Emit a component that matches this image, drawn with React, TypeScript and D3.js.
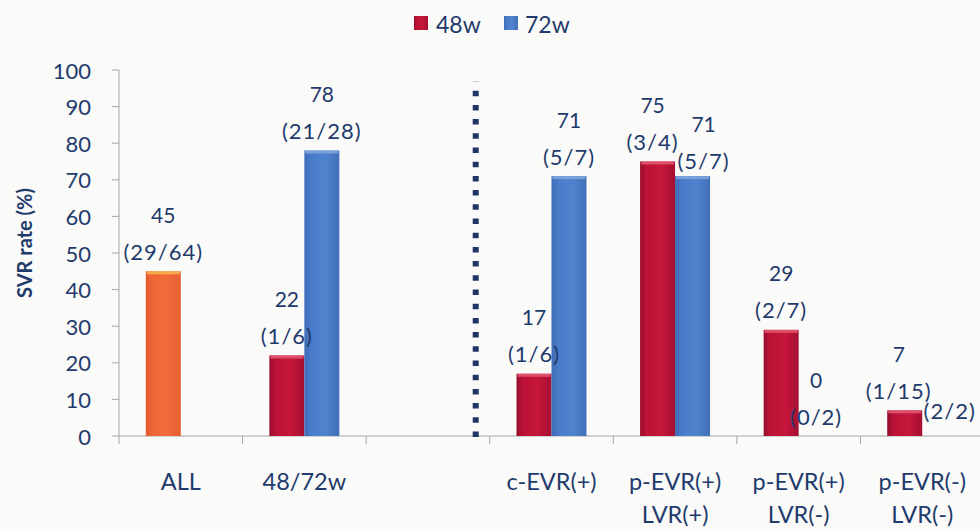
import React from "react";
import * as d3 from "d3";

// SVR rate by treatment duration and viral response
const categories = ["ALL", "48/72w", "", "c-EVR(+)", "p-EVR(+)\nLVR(+)", "p-EVR(+)\nLVR(-)", "p-EVR(-)\nLVR(-)"];
const seriesNames = ["48w", "72w"];
const svr48: (number | null)[] = [45, 22, null, 17, 75, 29, 7];
const svr72: (number | null)[] = [null, 78, null, 71, 71, 0, null];
const frac48: (string | null)[] = ["(29/64)", "(1/6)", null, "(1/6)", "(3/4)", "(2/7)", "(1/15)"];
const frac72: (string | null)[] = [null, "(21/28)", null, "(5/7)", "(5/7)", "(0/2)", "(2/2)"];
const yTicks = [0, 10, 20, 30, 40, 50, 60, 70, 80, 90, 100];

const W = 980;
const H = 529;
const FONT = 'Lato, "Open Sans", "DejaVu Sans", sans-serif';
const TEXT = "#1F3A6C";

// small label offsets where neighbouring labels would collide
const labelNudge: Record<string, [number, number]> = {
  "4-48w": [-5, 0],
  "4-72w": [11, 4],
  "6-48w": [-6, 0],
  "6-72w": [10, -6],
};

export default function App() {
  const idx = categories.map((_, i) => i);
  const x = d3.scaleBand<number>().domain(idx).range([119, 984]).paddingInner(0).paddingOuter(0);
  const xs = d3.scaleBand<string>().domain(seriesNames).range([0, x.bandwidth()]).paddingInner(0).paddingOuter(0.766);
  const y = d3.scaleLinear().domain([0, 100]).range([436, 70]);

  const bars: { i: number; s: string; v: number | null; frac: string | null }[] = [];
  idx.forEach((i) => {
    bars.push({ i, s: "48w", v: svr48[i], frac: frac48[i] });
    bars.push({ i, s: "72w", v: svr72[i], frac: frac72[i] });
  });

  const fillFor = (i: number, s: string) =>
    categories[i] === "ALL" ? "url(#gOrange)" : s === "48w" ? "url(#gRed)" : "url(#gBlue)";
  const topFor = (i: number, s: string) =>
    categories[i] === "ALL" ? "#F6B14A" : s === "48w" ? "#E25570" : "#7FA4DD";

  const sepX = (x(3) as number) - 14;
  const bw = xs.bandwidth();

  return (
    <svg
      width={W}
      height={H}
      viewBox={`0 0 ${W} ${H}`}
      style={{ position: "fixed", left: 0, top: 0, background: "#FAFAF9" }}
      fontFamily={FONT}
    >
      <defs>
        <linearGradient id="gRed" x1="0" x2="1" y1="0" y2="0">
          <stop offset="0" stopColor="#960D2B" />
          <stop offset="0.18" stopColor="#BB1236" />
          <stop offset="0.6" stopColor="#C6163B" />
          <stop offset="1" stopColor="#A50F30" />
        </linearGradient>
        <linearGradient id="gBlue" x1="0" x2="1" y1="0" y2="0">
          <stop offset="0" stopColor="#3E6BB6" />
          <stop offset="0.2" stopColor="#4A7BC8" />
          <stop offset="0.6" stopColor="#5083CE" />
          <stop offset="1" stopColor="#416FB8" />
        </linearGradient>
        <linearGradient id="gOrange" x1="0" x2="1" y1="0" y2="0">
          <stop offset="0" stopColor="#E55A30" />
          <stop offset="0.2" stopColor="#EE6738" />
          <stop offset="0.6" stopColor="#F06C3A" />
          <stop offset="1" stopColor="#E45E32" />
        </linearGradient>
      </defs>

      <rect x={0} y={0} width={W} height={H} fill="#FAFAF9" />

      {/* legend */}
      <g>
        <rect x={414} y={16} width={14} height={14} fill="url(#gRed)" />
        <text x={436} y={24} dominantBaseline="central" fontSize={23} fill={TEXT}>48w</text>
        <rect x={504} y={16} width={14} height={14} fill="url(#gBlue)" />
        <text x={525} y={24} dominantBaseline="central" fontSize={23} fill={TEXT}>72w</text>
      </g>

      {/* y axis */}
      <line x1={119} x2={119} y1={y(100)} y2={y(0)} stroke="#A6A6A6" strokeWidth={1} />
      {yTicks.map((t) => (
        <g key={t}>
          <line x1={112} x2={119} y1={y(t)} y2={y(t)} stroke="#A6A6A6" strokeWidth={1} />
          <text x={91} y={y(t)} textAnchor="end" dominantBaseline="central" fontSize={22} fill={TEXT}>
            {t}
          </text>
        </g>
      ))}
      <text
        transform={`translate(32,243) rotate(-90)`}
        textAnchor="middle"
        fontSize={20}
        fontWeight={700}
        fill={TEXT}
      >
        SVR rate (%)
      </text>

      {/* x axis */}
      <line x1={119} x2={W} y1={y(0)} y2={y(0)} stroke="#A6A6A6" strokeWidth={1} />
      {idx.concat([idx.length]).map((i) => {
        const px = i < idx.length ? (x(i) as number) : (x(idx.length - 1) as number) + x.bandwidth();
        return <line key={i} x1={px} x2={px} y1={y(0)} y2={y(0) + 8} stroke="#A6A6A6" strokeWidth={1} />;
      })}
      {idx.map((i) => {
        const cx = (x(i) as number) + x.bandwidth() / 2;
        const lines = categories[i].split("\n");
        return (
          <text key={i} textAnchor="middle" fontSize={23.5} fill={TEXT}>
            {lines.map((ln, k) => (
              <tspan key={k} x={cx} y={490 + k * 33}>
                {ln}
              </tspan>
            ))}
          </text>
        );
      })}

      {/* bars */}
      {bars
        .filter((b) => b.v !== null && b.v > 0)
        .map((b) => {
          const bx = (x(b.i) as number) + (xs(b.s) as number);
          const top = y(b.v as number);
          return (
            <g key={`${b.i}-${b.s}`}>
              <rect x={bx} y={top} width={bw} height={y(0) - top} fill={fillFor(b.i, b.s)} />
              <rect x={bx + 1} y={top} width={bw - 2} height={3} fill={topFor(b.i, b.s)} opacity={0.9} />
            </g>
          );
        })}

      {/* separator */}
      <line
        x1={sepX}
        x2={sepX}
        y1={y(0) + 1}
        y2={y(96.8)}
        stroke="#1F3464"
        strokeWidth={6}
        strokeDasharray="5.5 8.7"
      />

      {/* data labels */}
      {bars
        .filter((b) => b.frac !== null)
        .map((b) => {
          const key = `${b.i}-${b.s}`;
          const [dx, dy] = labelNudge[key] || [0, 0];
          const cx = (x(b.i) as number) + (xs(b.s) as number) + bw / 2 + dx;
          const top = y(b.v === null ? 0 : b.v) + dy;
          return (
            <g key={key}>
              {b.v !== null && (
                <text x={cx} y={top - 57} textAnchor="middle" dominantBaseline="central" fontSize={21} fill={TEXT}>
                  {b.v}
                </text>
              )}
              <text
                x={cx}
                y={top - 20}
                textAnchor="middle"
                dominantBaseline="central"
                fontSize={22}
                letterSpacing={1}
                fill={TEXT}
              >
                {b.frac}
              </text>
            </g>
          );
        })}
    </svg>
  );
}
